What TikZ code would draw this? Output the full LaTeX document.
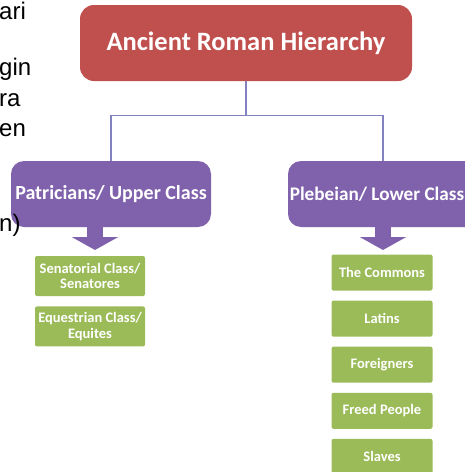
\documentclass[tikz,border=0pt]{standalone}
\usepackage{fontspec}
\setmainfont{Carlito}
\newfontfamily\fragfont{Liberation Sans}
\usetikzlibrary{arrows.meta}
\usetikzlibrary{calc}
\usetikzlibrary{positioning}
\definecolor{RomanRed}{RGB}{192,80,77}
\definecolor{ClassPurple}{RGB}{128,98,172}
\definecolor{GroupGreen}{RGB}{155,187,89}
\definecolor{LinkBlue}{RGB}{130,130,192}

\tikzset{
  titlebox/.style={rounded corners=14pt, fill=RomanRed, text=white, inner sep=0pt,
    minimum width=332pt, minimum height=76pt, font=\bfseries\fontsize{26.5}{30}\selectfont},
  classbox/.style={rounded corners=13pt, fill=ClassPurple, text=white, inner sep=0pt,
    minimum height=66pt, font=\bfseries\fontsize{20}{24}\selectfont},
  groupbox/.style={rounded corners=2pt, fill=GroupGreen, text=white, inner sep=0pt,
    align=center, font=\bfseries\fontsize{14.5}{15.5}\selectfont},
  link/.style={draw=LinkBlue, line width=1.4pt},
  blockarrow/.style={ClassPurple, line width=16pt, -{Triangle[length=13pt,width=46pt]}},
  fragment/.style={anchor=base west, inner sep=0pt, font=\fragfont\fontsize{24}{28}\selectfont}
}

\begin{document}
\begin{tikzpicture}[x=1pt, y=-1pt]

% page frame
\useasboundingbox (0,0) rectangle (465,472);

% top of the hierarchy
\node[titlebox] (title) at (246,43) {Ancient Roman Hierarchy};

% the two classes
\node[classbox, minimum width=200pt] (patr) at (111,194) {Patricians/ Upper Class};
\node[classbox, minimum width=190pt] (pleb) at (383,194)
  {\hspace*{-12pt}\fontsize{19.2}{24}\selectfont Plebeian/ Lower Class};

% tree lines
\coordinate (split) at ($(title.south)+(0,34)$);
\draw[link] (title.south) -- (split);
\draw[link] (patr.north) |- (split) -| (pleb.north);

% upper class groups
\def \gapG {10pt}
\node[groupbox, minimum width=110pt, minimum height=40pt] (senat) at (90,276)
  {Senatorial Class/\\Senatores};
\node[groupbox, minimum width=110pt, minimum height=40pt, below=\gapG of senat] (eques)
  {Equestrian Class/\\Equites};

% lower class groups
\def \gapP {9.7pt}
\node[groupbox, minimum width=101pt, minimum height=36pt] (commons) at (382,272.5) {The Commons};
\node[groupbox, minimum width=101pt, minimum height=36pt, below=\gapP of commons] (latins) {Latins};
\node[groupbox, minimum width=101pt, minimum height=36pt, below=\gapP of latins] (foreign) {Foreigners};
\node[groupbox, minimum width=101pt, minimum height=36pt, below=\gapP of foreign] (freed) {Freed People};
\node[groupbox, minimum width=101pt, minimum height=36pt, below=\gapP of freed] (slaves) {Slaves};

% block arrows down to the groups
\coordinate (patrTip) at (95,250);
\coordinate (plebTip) at (383,250);
\draw[blockarrow] ($(patr.south)+(-16,-1)$) -- (patrTip);
\draw[blockarrow] ($(pleb.south)+(0,-1)$) -- (plebTip);

% cut off words at the left edge
\node[fragment] (fragA) at (-1,19) {ari};
\node[fragment] (fragB) at (-1,75) {gin};
\node[fragment] (fragC) at (-1,106) {ra};
\node[fragment] (fragD) at (-1,136) {en};
\node[fragment] (fragE) at (-1,231) {n)};

\end{tikzpicture}
\end{document}
